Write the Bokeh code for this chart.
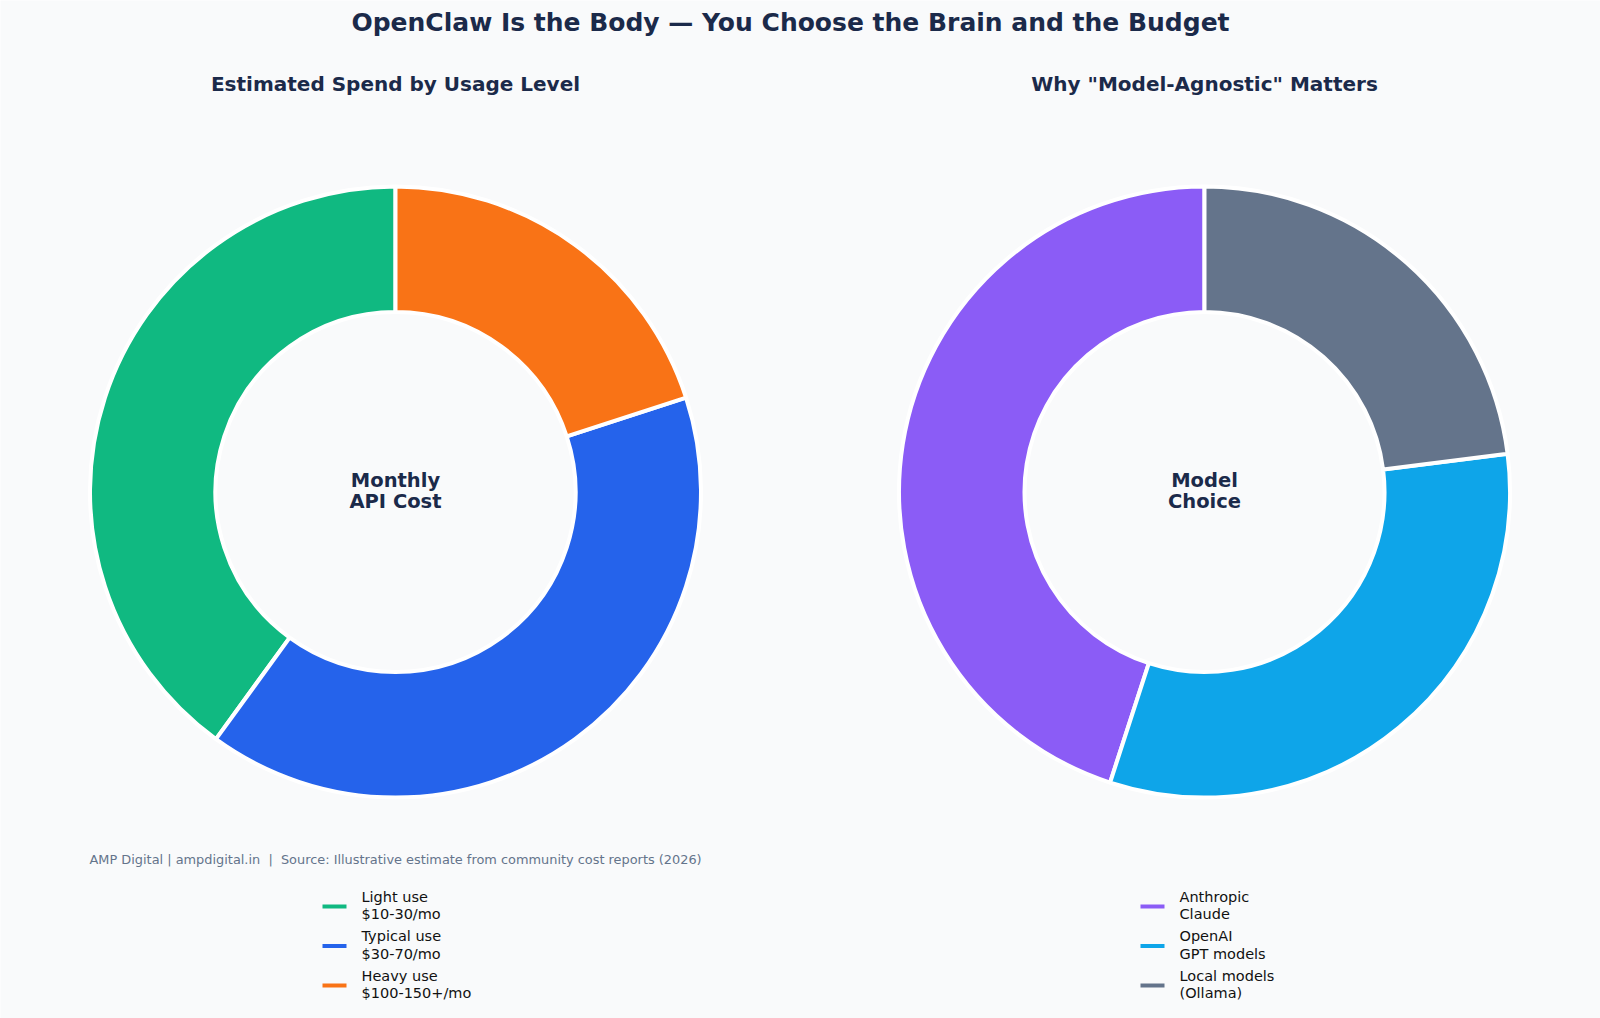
from bokeh.plotting import figure
from bokeh.models import ColumnDataSource
from bokeh.core.properties import value
from bokeh.embed import file_html
from bokeh.resources import INLINE
import numpy as np

# ---- data ----
usage_labels = ["Light use\n$10-30/mo", "Typical use\n$30-70/mo", "Heavy use\n$100-150+/mo"]
usage_values = [40, 40, 20]
usage_colors = ["#10b981", "#2563eb", "#f97316"]

model_labels = ["Anthropic\nClaude", "OpenAI\nGPT models", "Local models\n(Ollama)"]
model_values = [45, 32, 23]
model_colors = ["#8b5cf6", "#0ea5e9", "#64748b"]

main_title = "OpenClaw Is the Body \u2014 You Choose the Brain and the Budget"
left_title = "Estimated Spend by Usage Level"
right_title = "Why \"Model-Agnostic\" Matters"
left_center = ["Monthly", "API Cost"]
right_center = ["Model", "Choice"]
footer = "AMP Digital | ampdigital.in \u00a0|\u00a0 Source: Illustrative estimate from community cost reports (2026)"

W, H = 1600, 1018
BG = "#f9fafb"
DARK = "#1b2a4a"
FONT = value("DejaVu Sans")

p = figure(width=W, height=H, x_range=(0, W), y_range=(0, H),
           output_backend="svg", toolbar_location=None, min_border=0)
p.axis.visible = False
p.grid.visible = False
p.outline_line_color = None
p.background_fill_color = BG
p.border_fill_color = BG

def Y(y):
    return H - y

R_OUT, R_IN = 305.5, 180.0
CY = 491.5

def donut(cx, values, colors):
    v = np.array(values, dtype=float)
    frac = v / v.sum()
    cum = np.concatenate([[0], np.cumsum(frac)])
    start = np.pi / 2 + 2 * np.pi * cum[:-1]
    end = np.pi / 2 + 2 * np.pi * cum[1:]
    src = ColumnDataSource(dict(x=[cx] * len(v), y=[Y(CY)] * len(v),
                                start=start, end=end, color=colors))
    p.annular_wedge(x="x", y="y", inner_radius=R_IN, outer_radius=R_OUT,
                    start_angle="start", end_angle="end", direction="anticlock",
                    fill_color="color", line_color="white", line_width=4, source=src)

def legend(x0, labels, colors):
    for i, (lab, col) in enumerate(zip(labels, colors)):
        ym = 906 + i * 39.5
        p.segment(x0=[x0], y0=[Y(ym)], x1=[x0 + 24], y1=[Y(ym)], line_color=col, line_width=4)
        lines = lab.split("\n")
        p.text(x=[x0 + 39] * len(lines), y=[Y(ym - 10), Y(ym + 7.5)][:len(lines)], text=lines,
               text_font=FONT, text_font_size="14.5px", text_color="#111111",
               text_baseline="middle", text_align="left")

def center_text(cx, lines):
    p.text(x=[cx, cx], y=[Y(480), Y(501)], text=lines, text_font=FONT,
           text_font_size="19.5px", text_font_style="bold", text_color=DARK,
           text_align="center", text_baseline="middle")

donut(395, usage_values, usage_colors)
donut(1204, model_values, model_colors)
center_text(395, left_center)
center_text(1204, right_center)

p.text(x=[790], y=[Y(22)], text=[main_title], text_font=FONT, text_font_size="25px",
       text_font_style="bold", text_color=DARK, text_align="center", text_baseline="middle")
p.text(x=[395, 1204], y=[Y(83), Y(83)], text=[left_title, right_title], text_font=FONT,
       text_font_size="20px", text_font_style="bold", text_color=DARK,
       text_align="center", text_baseline="middle")
p.text(x=[89], y=[Y(859)], text=[footer], text_font=FONT, text_font_size="12.9px",
       text_color="#64748b", text_align="left", text_baseline="middle")

legend(322, usage_labels, usage_colors)
legend(1140, model_labels, model_colors)

open("out.html", "w").write(file_html(p, INLINE))
